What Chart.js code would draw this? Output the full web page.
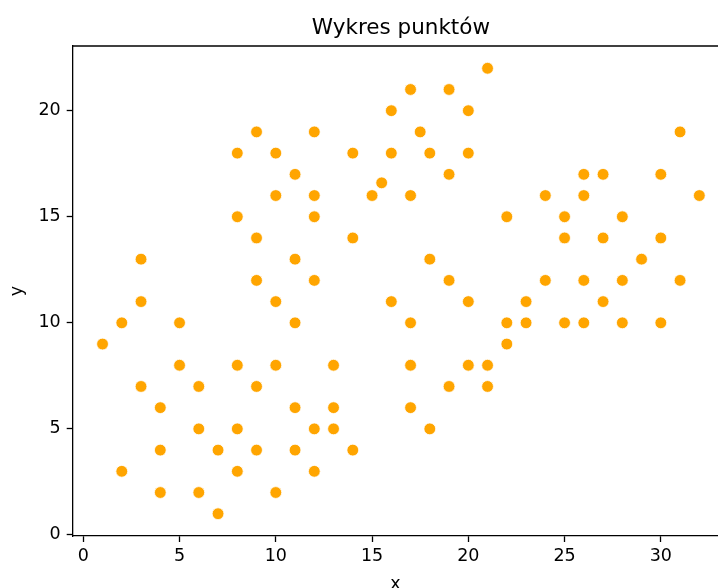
<!DOCTYPE html>
<html>
<head>
<meta charset="utf-8">
<script src="https://cdn.jsdelivr.net/npm/chart.js@4"></script>
<style>
  html, body { margin: 0; padding: 0; background: #fff; overflow: hidden; }
  #wrap { width: 718px; height: 588px; }
</style>
</head>
<body>
<div id="wrap"><canvas id="c" width="718" height="588"></canvas></div>
<script>
const chartTitle = 'Wykres punktów';
const xAxisTitle = 'x';
const yAxisTitle = 'y';

const xValues = [1, 2, 2, 3, 3, 3, 4, 4, 4, 5, 5, 6, 6, 6, 7, 7,
  8, 8, 8, 8, 8, 9, 9, 9, 9, 9, 10, 10, 10, 10, 10, 11, 11, 11, 11, 11,
  12, 12, 12, 12, 12, 12, 13, 13, 13, 14, 14, 14, 15, 15.5, 16, 16, 16,
  17, 17, 17, 17, 17, 17.5, 18, 18, 18, 19, 19, 19, 19, 20, 20, 20, 20,
  21, 21, 21, 22, 22, 22, 23, 23, 24, 24, 25, 25, 25, 26, 26, 26, 26,
  27, 27, 27, 28, 28, 28, 29, 30, 30, 30, 31, 31, 32];
const yValues = [9, 10, 3, 13, 11, 7, 6, 4, 2, 10, 8, 7, 5, 2, 4, 1,
  18, 15, 8, 5, 3, 19, 14, 12, 7, 4, 18, 16, 11, 8, 2, 17, 13, 10, 6, 4,
  19, 16, 15, 12, 5, 3, 8, 6, 5, 18, 14, 4, 16, 16.6, 20, 18, 11,
  21, 16, 10, 8, 6, 19, 18, 13, 5, 21, 17, 12, 7, 20, 18, 11, 8,
  22, 8, 7, 15, 10, 9, 11, 10, 16, 12, 15, 14, 10, 17, 16, 12, 10,
  17, 14, 11, 15, 12, 10, 13, 17, 14, 10, 19, 12, 16];

const xRange = [-0.55, 32.97];
const xFullRange = [-0.55, 33.55];
const yRange = [-0.05, 23.05];
const tickStep = 5;

const points = xValues.map((x, i) => ({ x: x, y: yValues[i] }));

const FONT = 'DejaVu Sans';
const framePlugin = {
  id: 'frame',
  afterDraw(chart) {
    const { ctx, chartArea } = chart;
    const xs = chart.scales.x;
    ctx.save();
    ctx.strokeStyle = '#000';
    ctx.lineWidth = 1.3;
    ctx.beginPath();
    ctx.moveTo(chartArea.left, chartArea.top);
    ctx.lineTo(chartArea.right + 2, chartArea.top);
    ctx.stroke();
    ctx.fillStyle = '#000';
    ctx.font = '21.5px "' + FONT + '"';
    ctx.textAlign = 'center';
    ctx.textBaseline = 'alphabetic';
    const cx = xs.getPixelForValue((xFullRange[0] + xFullRange[1]) / 2);
    ctx.fillText(chartTitle, cx, chartArea.top - 11.7);
    ctx.restore();
  }
};

new Chart(document.getElementById('c'), {
  type: 'scatter',
  data: {
    datasets: [{
      data: points,
      backgroundColor: '#FFA500',
      borderColor: '#ffffff',
      borderWidth: 0.8,
      pointRadius: 5.9,
      pointHoverRadius: 5.9
    }]
  },
  plugins: [framePlugin],
  options: {
    responsive: false,
    animation: false,
    devicePixelRatio: 1,
    layout: { autoPadding: false, padding: { top: 46, right: 0, left: 0, bottom: 0 } },
    plugins: {
      legend: { display: false },
      tooltip: { enabled: false },
      title: { display: false }
    },
    scales: {
      x: {
        type: 'linear',
        min: xRange[0],
        max: xRange[1],
        afterFit(scale) { scale.height = 52; },
        ticks: {
          stepSize: tickStep,
          includeBounds: false,
          padding: 4,
          color: '#000',
          font: { family: FONT, size: 17.5 },
          maxRotation: 0
        },
        grid: {
          drawOnChartArea: false,
          drawTicks: true,
          tickLength: 6,
          tickWidth: 1.3,
          tickColor: '#000'
        },
        border: { display: true, color: '#000', width: 1.3 },
        title: {
          display: true,
          text: xAxisTitle,
          color: '#000',
          font: { family: FONT, size: 17.5, lineHeight: 0.45 },
          padding: { top: 0, bottom: 0 }
        }
      },
      y: {
        type: 'linear',
        min: yRange[0],
        max: yRange[1],
        afterFit(scale) { scale.width = 72.7; },
        ticks: {
          stepSize: tickStep,
          includeBounds: false,
          padding: 6,
          color: '#000',
          font: { family: FONT, size: 17.5 }
        },
        grid: {
          drawOnChartArea: false,
          drawTicks: true,
          tickLength: 6,
          tickWidth: 1.3,
          tickColor: '#000'
        },
        border: { display: true, color: '#000', width: 1.3 },
        title: {
          display: true,
          text: yAxisTitle,
          color: '#000',
          font: { family: FONT, size: 17.5 },
          padding: { top: 7, bottom: 0 }
        }
      }
    }
  }
});
</script>
</body>
</html>
